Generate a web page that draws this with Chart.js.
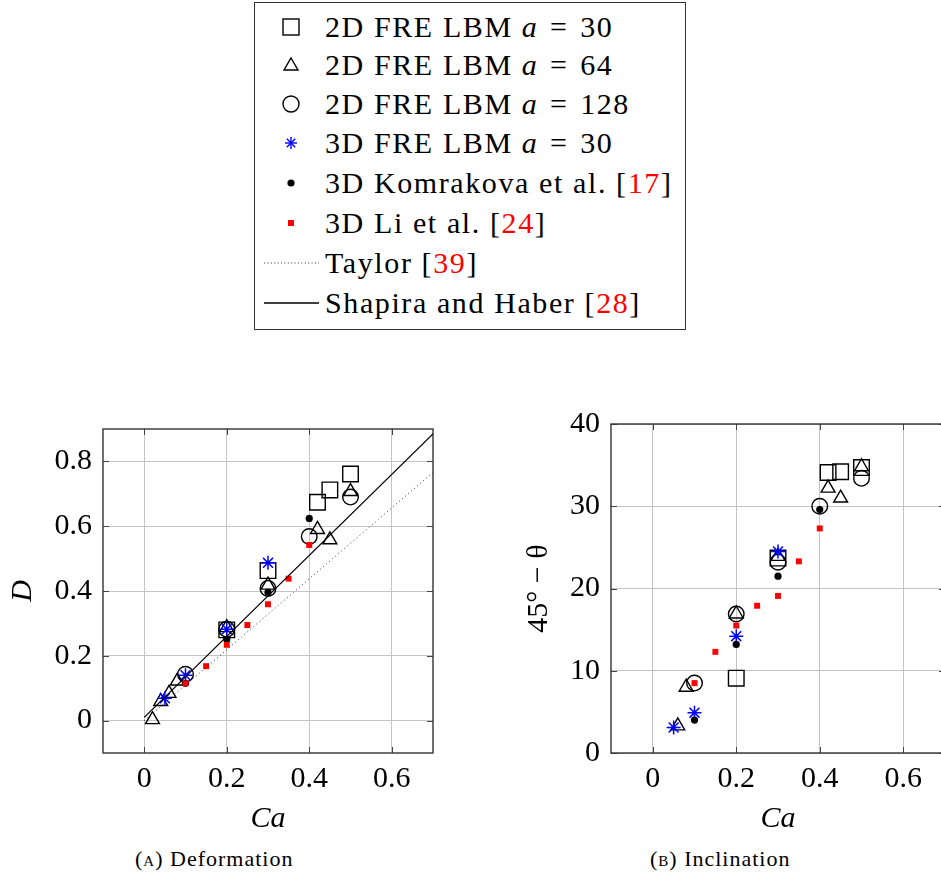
<!DOCTYPE html>
<html>
<head>
<meta charset="utf-8">
<script src="https://cdn.jsdelivr.net/npm/chart.js@4.4.0/dist/chart.umd.min.js"></script>
<style>
  html, body { margin: 0; padding: 0; background: #fff; overflow: hidden; width: 941px; height: 876px; }
  body { position: relative; font-family: "Liberation Serif", "DejaVu Serif", serif; color: #000; }
  #legend { position: absolute; left: 254px; top: 2px; width: 432px; height: 328px; border: 1px solid #333; box-sizing: border-box; }
  .row { position: absolute; left: 0; width: 430px; height: 40px; }
  .row svg { position: absolute; left: 0; top: 0; }
  .row span.txt { position: absolute; left: 70px; top: 0; line-height: 40px; font-size: 30px; letter-spacing: 1.6px; white-space: nowrap; }
  .ref { color: #f00; }
  #cDef { position: absolute; left: 0; top: 400px; }
  #cInc { position: absolute; left: 510px; top: 395px; }
  .caption { position: absolute; top: 846px; font-size: 22px; letter-spacing: 1px; white-space: nowrap; }
  .sc { font-variant: small-caps; }
</style>
</head>
<body>

<div id="legend">
  <div class="row" style="top:4px">
    <svg width="70" height="40"><rect x="28" y="12" width="16" height="16" fill="none" stroke="#000" stroke-width="1.4"/></svg>
    <span class="txt">2D FRE LBM <i>a</i>&#8196;=&#8196;30</span>
  </div>
  <div class="row" style="top:42px">
    <svg width="70" height="40"><polygon points="36,13 43,25 29,25" fill="none" stroke="#000" stroke-width="1.4"/></svg>
    <span class="txt">2D FRE LBM <i>a</i>&#8196;=&#8196;64</span>
  </div>
  <div class="row" style="top:81px">
    <svg width="70" height="40"><circle cx="36" cy="20" r="8" fill="none" stroke="#000" stroke-width="1.4"/></svg>
    <span class="txt">2D FRE LBM <i>a</i>&#8196;=&#8196;128</span>
  </div>
  <div class="row" style="top:120px">
    <svg width="70" height="40"><g stroke="#00f" stroke-width="1.4">
      <line x1="30" y1="20" x2="42" y2="20"/><line x1="36" y1="14" x2="36" y2="26"/>
      <line x1="31.8" y1="15.8" x2="40.2" y2="24.2"/><line x1="31.8" y1="24.2" x2="40.2" y2="15.8"/></g></svg>
    <span class="txt">3D FRE LBM <i>a</i>&#8196;=&#8196;30</span>
  </div>
  <div class="row" style="top:160px">
    <svg width="70" height="40"><circle cx="36" cy="20" r="3.6" fill="#000"/></svg>
    <span class="txt">3D Komrakova et al. [<span class="ref">17</span>]</span>
  </div>
  <div class="row" style="top:200px">
    <svg width="70" height="40"><rect x="33" y="17" width="6" height="6" fill="#f00"/></svg>
    <span class="txt">3D Li et al. [<span class="ref">24</span>]</span>
  </div>
  <div class="row" style="top:240px">
    <svg width="70" height="40"><line x1="9" y1="20" x2="64" y2="20" stroke="#333" stroke-width="1" stroke-dasharray="1 2.4"/></svg>
    <span class="txt">Taylor [<span class="ref">39</span>]</span>
  </div>
  <div class="row" style="top:280px">
    <svg width="70" height="40"><line x1="9" y1="20" x2="64" y2="20" stroke="#000" stroke-width="1.3"/></svg>
    <span class="txt">Shapira and Haber [<span class="ref">28</span>]</span>
  </div>
</div>

<canvas id="cDef" width="450" height="440"></canvas>
<canvas id="cInc" width="450" height="445"></canvas>

<div class="caption" style="left:135px">(<span class="sc">a</span>) Deformation</div>
<div class="caption" style="left:650px">(<span class="sc">b</span>) Inclination</div>

<script>
// 刻度
const caTicks = [0, 0.2, 0.4, 0.6];
const caTickLabels = ['0', '0.2', '0.4', '0.6'];
const dTicks = [0, 0.2, 0.4, 0.6, 0.8];
const dTickLabels = ['0', '0.2', '0.4', '0.6', '0.8'];
const incTicks = [0, 10, 20, 30, 40];
const incTickLabels = ['0', '10', '20', '30', '40'];

// 2D FRE LBM a = 30
const caA30 = [0.2, 0.3, 0.42, 0.45, 0.5];
const defA30 = [0.28, 0.463, 0.674, 0.712, 0.761];
const incA30 = [9.1, 23.7, 34.1, 34.2, 34.7];

// 2D FRE LBM a = 64
const caA64Def = [0.02, 0.04, 0.06, 0.08, 0.2, 0.3, 0.42, 0.45, 0.5];
const defA64 = [0.003, 0.059, 0.084, 0.122, 0.287, 0.418, 0.59, 0.558, 0.707];
const caA64Inc = [0.06, 0.08, 0.2, 0.3, 0.42, 0.45, 0.5];
const incA64 = [3.3, 8.0, 16.9, 23.9, 32.2, 31.0, 34.8];

// 2D FRE LBM a = 128
const caA128 = [0.1, 0.2, 0.3, 0.4, 0.5];
const defA128 = [0.143, 0.282, 0.408, 0.568, 0.69];
const incA128 = [8.5, 16.9, 23.2, 30.0, 33.4];

// 3D FRE LBM a = 30
const ca3D = [0.05, 0.1, 0.2, 0.3];
const def3D = [0.069, 0.14, 0.282, 0.487];
const inc3D = [3.1, 4.9, 14.2, 24.5];

// 3D Komrakova et al.
const caKom = [0.1, 0.2, 0.3, 0.4];
const defKom = [0.115, 0.251, 0.396, 0.624];
const incKom = [4.0, 13.2, 21.5, 29.6];

// 3D Li et al.
const caLi = [0.1, 0.15, 0.2, 0.25, 0.3, 0.35, 0.4];
const defLi = [0.115, 0.168, 0.234, 0.295, 0.359, 0.438, 0.542];
const incLi = [8.5, 12.3, 15.5, 17.9, 19.1, 23.3, 27.3];

// 理論曲線
const caTaylor = [0, 0.7];
const defTaylor = [0, 0.766];
const caShapira = [0, 0.7];
const defShapira = [0.01, 0.885];

const FONT = "'Liberation Serif', 'DejaVu Serif', serif";
Chart.defaults.font.family = FONT;
Chart.defaults.color = '#000';

function pts(xs, ys) {
    return xs.map((x, i) => ({ x: x, y: ys[i] }));
}

function marker(xs, ys, style, radius, color, fill, width, order) {
    return {
        data: pts(xs, ys),
        pointStyle: style,
        pointRadius: radius,
        pointHoverRadius: radius,
        pointBorderColor: color,
        pointBackgroundColor: fill,
        pointBorderWidth: width,
        showLine: false,
        order: order
    };
}

// 框線和內側刻度
const framePlugin = {
    id: 'frame',
    beforeDatasetsDraw(chart) {
        const { ctx, chartArea: a, scales } = chart;
        ctx.save();
        ctx.strokeStyle = '#444';
        ctx.lineWidth = 1;
        ctx.beginPath();
        scales.x.ticks.forEach(t => {
            const px = Math.round(scales.x.getPixelForValue(t.value)) + 0.5;
            ctx.moveTo(px, a.bottom); ctx.lineTo(px, a.bottom - 6);
            ctx.moveTo(px, a.top); ctx.lineTo(px, a.top + 6);
        });
        scales.y.ticks.forEach(t => {
            const py = Math.round(scales.y.getPixelForValue(t.value)) + 0.5;
            ctx.moveTo(a.left, py); ctx.lineTo(a.left + 6, py);
            ctx.moveTo(a.right, py); ctx.lineTo(a.right - 6, py);
        });
        ctx.stroke();
        ctx.strokeStyle = '#333';
        ctx.lineWidth = 1.4;
        ctx.strokeRect(a.left, a.top, a.right - a.left, a.bottom - a.top);
        ctx.restore();
    }
};

function axes(yMin, yMax, yTicks, yLabels, yTitle, yTitleStyle, yWidth, yTitlePad) {
    return {
        x: {
            type: 'linear',
            min: -0.1,
            max: 0.7,
            afterBuildTicks: s => { s.ticks = caTicks.map(v => ({ value: v })); },
            afterFit: s => { s.height = 87; },
            ticks: {
                callback: (v, i) => caTickLabels[i],
                font: { size: 30 },
                color: '#000',
                padding: 8,
                maxRotation: 0
            },
            grid: { color: '#c4c4c4', lineWidth: 1, drawTicks: false },
            border: { display: false },
            title: {
                display: true,
                text: 'Ca',
                font: { size: 30, style: 'italic' },
                color: '#000',
                padding: { top: 0, bottom: 3 }
            }
        },
        y: {
            type: 'linear',
            min: yMin,
            max: yMax,
            afterBuildTicks: s => { s.ticks = yTicks.map(v => ({ value: v })); },
            afterFit: s => { s.width = yWidth; },
            ticks: {
                callback: (v, i) => yLabels[i],
                font: { size: 30 },
                color: '#000',
                padding: 11
            },
            grid: { color: '#c4c4c4', lineWidth: 1, drawTicks: false },
            border: { display: false },
            title: {
                display: true,
                text: yTitle,
                font: { size: 30, style: yTitleStyle },
                color: '#000',
                padding: { top: yTitlePad, bottom: 0 }
            }
        }
    };
}

function markerSets(xsA30, ysA30, xsA64, ysA64, xsA128, ysA128, xs3D, ys3D, xsKom, ysKom, xsLi, ysLi) {
    return [
        marker(xsA30, ysA30, 'rect', 11, '#000', 'rgba(0,0,0,0)', 1.4, 9),
        marker(xsA64, ysA64, 'triangle', 8, '#000', 'rgba(0,0,0,0)', 1.4, 8),
        marker(xsA128, ysA128, 'circle', 7.8, '#000', 'rgba(0,0,0,0)', 1.4, 7),
        marker(xs3D, ys3D, 'star', 7, '#0000ff', '#0000ff', 1.5, 6),
        marker(xsKom, ysKom, 'circle', 3.6, '#000', '#000', 0, 5),
        marker(xsLi, ysLi, 'rect', 4.2, '#ff0000', '#ff0000', 0, 4)
    ];
}

function createDeformationChart() {
    const ctx = document.getElementById('cDef');
    const sets = markerSets(caA30, defA30, caA64Def, defA64, caA128, defA128, ca3D, def3D, caKom, defKom, caLi, defLi);
    sets.push({
        data: pts(caTaylor, defTaylor),
        showLine: true,
        borderColor: '#333',
        borderWidth: 1,
        borderDash: [1, 3],
        pointRadius: 0,
        order: 3
    });
    sets.push({
        data: pts(caShapira, defShapira),
        showLine: true,
        borderColor: '#000',
        borderWidth: 1.3,
        pointRadius: 0,
        order: 2
    });
    new Chart(ctx, {
        type: 'scatter',
        data: { datasets: sets },
        options: {
            responsive: false,
            animation: false,
            layout: { padding: { top: 24, right: 17, left: 0, bottom: 0 } },
            plugins: { legend: { display: false }, tooltip: { enabled: false } },
            scales: axes(-0.1, 0.9, dTicks, dTickLabels, 'D', 'italic', 103, 5)
        },
        plugins: [framePlugin]
    });
}

function createInclinationChart() {
    const ctx = document.getElementById('cInc');
    const sets = markerSets(caA30, incA30, caA64Inc, incA64, caA128, incA128, ca3D, inc3D, caKom, incKom, caLi, incLi);
    new Chart(ctx, {
        type: 'scatter',
        data: { datasets: sets },
        options: {
            responsive: false,
            animation: false,
            layout: { padding: { top: 24, right: 15, left: 0, bottom: 0 } },
            plugins: { legend: { display: false }, tooltip: { enabled: false } },
            scales: axes(0, 40, incTicks, incTickLabels, '45° − θ', 'normal', 101, 11)
        },
        plugins: [framePlugin]
    });
}

createDeformationChart();
createInclinationChart();
</script>
</body>
</html>
